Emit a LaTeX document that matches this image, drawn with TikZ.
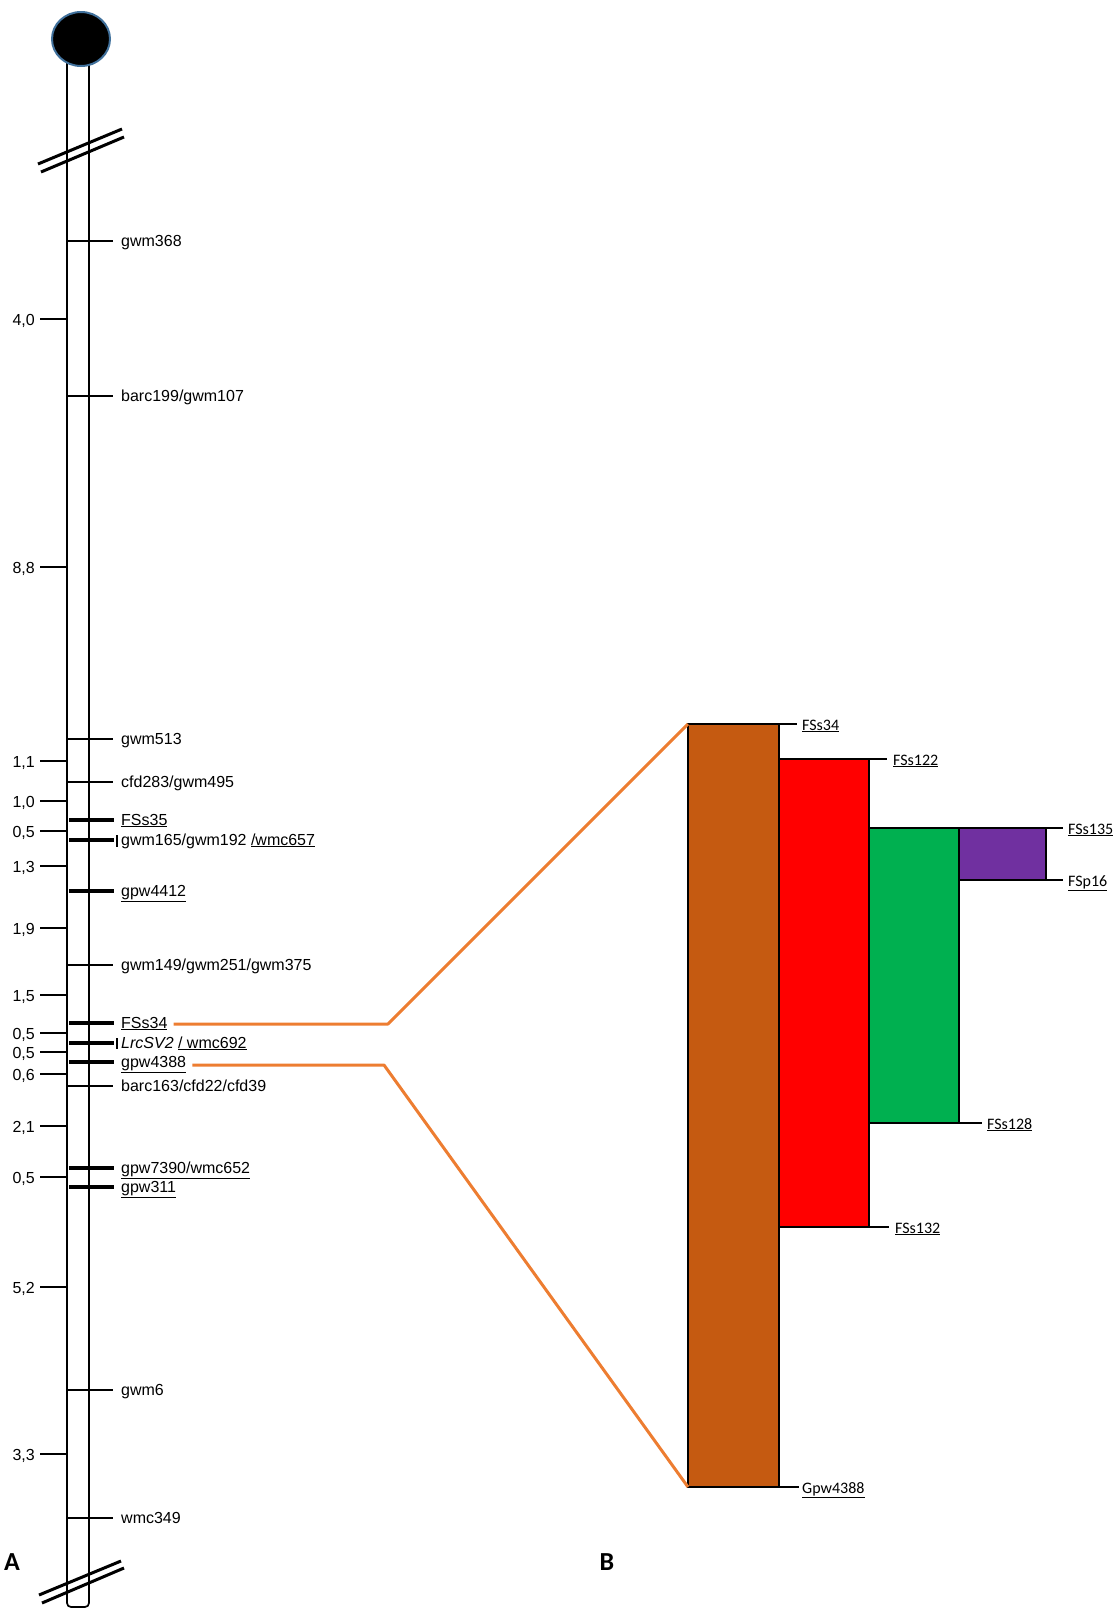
\documentclass[tikz,border=0pt]{standalone}
\usepackage{fontspec}
\setmainfont{Liberation Sans}
\newfontfamily\calib{Carlito}
\definecolor{cblue}{HTML}{41719C}
\definecolor{corange}{HTML}{ED7D31}
\definecolor{cbrown}{HTML}{C55A11}
\definecolor{cred}{HTML}{FF0000}
\definecolor{cgreen}{HTML}{00B050}
\definecolor{cpurple}{HTML}{7030A0}
\begin{document}
\begin{tikzpicture}[x=1pt,y=-1pt,
  lab/.style={anchor=base west, inner sep=0pt, font=\fontsize{16}{18}\selectfont},
  sclab/.style={anchor=base east, inner sep=0pt, font=\fontsize{16}{18}\selectfont},
  rlab/.style={anchor=base west, inner sep=0pt, font=\calib\fontsize{16}{18}\selectfont},
  mthin/.style={line width=1.3pt},
  mthick/.style={line width=3.4pt},
  sctick/.style={line width=1.8pt},
  brk/.style={line width=3pt},
  boxst/.style={draw=black, line width=1.8pt, inner sep=0pt, outer sep=0pt, anchor=north west},
  lead/.style={line width=1.3pt},
  conn/.style={draw=corange, line width=3pt, line join=round},
  panel/.style={font=\calib\bfseries\fontsize{26}{28}\selectfont, inner sep=0pt}
]
\useasboundingbox (0,0) rectangle (1117,1609);

% chromosome body
\draw[line width=1.7pt, rounded corners=4pt] (67,60) -- (67,1607) -- (89,1607) -- (89,60);
\draw[fill=black, draw=cblue, line width=2pt] (81,39) ellipse [x radius=29, y radius=27];

% break marks
\draw[brk] (38,164) -- (122,129);
\draw[brk] (41,172) -- (124,137);
\draw[brk] (39,1595) -- (121,1561);
\draw[brk] (42,1603) -- (124,1568);

% scale ticks and labels
\foreach \yy/\tt/\nm in {319/{4,0}/s1, 567/{8,8}/s2, 761/{1,1}/s3, 801/{1,0}/s4, 831/{0,5}/s5,
  866/{1,3}/s6, 928/{1,9}/s7, 995/{1,5}/s8, 1033/{0,5}/s9, 1052/{0,5}/s10, 1074/{0,6}/s11,
  1126/{2,1}/s12, 1177/{0,5}/s13, 1287/{5,2}/s14, 1454/{3,3}/s15}{
  \draw[sctick] (40,\yy) -- (67,\yy);
  \node[sclab] (\nm) at (35,\yy+6) {\tt};
}

% thin markers
\draw[mthin] (67,241) -- (113,241);
\node[lab] (gwm368) at (121,246) {gwm368};
\draw[mthin] (67,396) -- (113,396);
\node[lab] (barc199) at (121,401) {barc199/gwm107};
\draw[mthin] (67,739) -- (113,739);
\node[lab] (gwm513) at (121,744) {gwm513};
\draw[mthin] (67,782) -- (113,782);
\node[lab] (cfd283) at (121,787) {cfd283/gwm495};
\draw[mthin] (67,965) -- (113,965);
\node[lab] (gwm149) at (121,970) {gwm149/gwm251/gwm375};
\draw[mthin] (67,1086) -- (113,1086);
\node[lab] (barc163) at (121,1091) {barc163/cfd22/cfd39};
\draw[mthin] (67,1390) -- (113,1390);
\node[lab] (gwm6) at (121,1395) {gwm6};
\draw[mthin] (67,1518) -- (113,1518);
\node[lab] (wmc349) at (121,1523) {wmc349};

% thick markers
\draw[mthick] (69,820) -- (114,820);
\node[lab] (FSs35) at (121,825) {\underline{FSs35}};
\draw[mthick] (69,840) -- (114,840);
\draw[line width=1.5pt] (117,835) -- (117,847);
\node[lab] (gwm165) at (121,845) {gwm165/gwm192 \underline{/wmc657}};
\draw[mthick] (69,891) -- (114,891);
\node[lab] (gpw4412) at (121,896) {\underline{gpw4412}};
\draw[mthick] (69,1023) -- (114,1023);
\node[lab] (FSs34) at (121,1028) {\underline{FSs34}};
\draw[mthick] (69,1043) -- (114,1043);
\draw[line width=1.5pt] (117,1038) -- (117,1049);
\node[lab] (LrcSV2) at (121,1048) {\textit{LrcSV2} \underline{/ wmc692}};
\draw[mthick] (69,1062) -- (114,1062);
\node[lab] (gpw4388) at (121,1067) {\underline{gpw4388}};
\draw[mthick] (69,1168) -- (114,1168);
\node[lab] (gpw7390) at (121,1173) {\underline{gpw7390/wmc652}};
\draw[mthick] (69,1187) -- (114,1187);
\node[lab] (gpw311) at (121,1192) {\underline{gpw311}};

% right panel boxes
\node[boxst, fill=cbrown, minimum width=91pt, minimum height=763pt] (brown) at (688,724) {};
\node[boxst, fill=cred, minimum width=90pt, minimum height=468pt] (red) at (779,759) {};
\node[boxst, fill=cgreen, minimum width=90pt, minimum height=295pt] (green) at (869,828) {};
\node[boxst, fill=cpurple, minimum width=87pt, minimum height=52pt] (purple) at (959,828) {};

% leaders and labels
\draw[lead] (brown.north east) -- ++(18,0) coordinate (e1);
\node[rlab] (rFSs34) at (802,730) {\underline{FSs34}};
\draw[lead] (red.north east) -- ++(18,0) coordinate (e2);
\node[rlab] (rFSs122) at (893,765) {\underline{FSs122}};
\draw[lead] (purple.north east) -- ++(17,0) coordinate (e3);
\node[rlab] (rFSs135) at (1068,834) {\underline{FSs135}};
\draw[lead] (purple.south east) -- ++(17,0) coordinate (e4);
\node[rlab] (rFSp16) at (1068,886) {\underline{FSp16}};
\draw[lead] (green.south east) -- ++(23,0) coordinate (e5);
\node[rlab] (rFSs128) at (987,1129) {\underline{FSs128}};
\draw[lead] (red.south east) -- ++(20,0) coordinate (e6);
\node[rlab] (rFSs132) at (895,1233) {\underline{FSs132}};
\draw[lead] (brown.south east) -- ++(20,0) coordinate (e7);
\node[rlab] (rGpw4388) at (802,1493) {\underline{Gpw4388}};

% orange connectors
\coordinate (k1) at (388,1024);
\coordinate (k2) at (384,1065);
\draw[conn] ([xshift=6pt]FSs34.east |- k1) -- (k1) -- (brown.north west);
\draw[conn] ([xshift=6pt]gpw4388.east |- k2) -- (k2) -- (brown.south west);

% panel letters
\node[panel] (pA) at (12,1562) {A};
\node[panel] (pB) at (607,1562) {B};
\end{tikzpicture}
\end{document}
